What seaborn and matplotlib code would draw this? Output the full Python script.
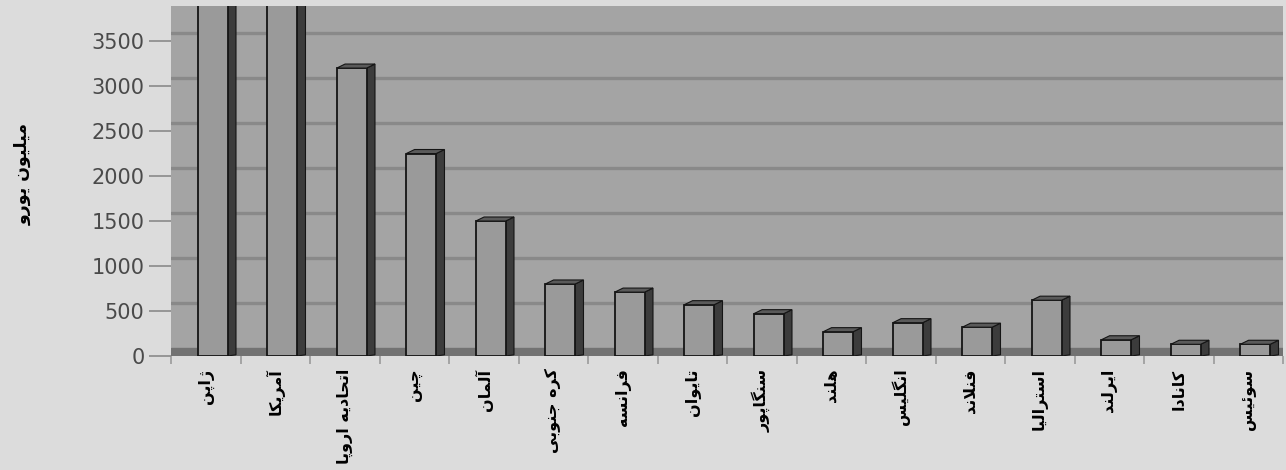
import matplotlib
matplotlib.use("Agg")
import matplotlib.pyplot as plt
from matplotlib.patches import Polygon
import seaborn as sns
import pandas as pd

# ---------------- data ----------------
countries = ["ژاپن", "آمریکا", "اتحادیه اروپا", "چین", "آلمان", "کره جنوبی",
             "فرانسه", "تایوان", "سنگاپور", "هلند", "انگلیس", "فنلاند",
             "استرالیا", "ایرلند", "کانادا", "سوئیس"]
values = [4800, 4500, 3200, 2250, 1500, 800, 710, 570, 470, 270, 370, 320,
          620, 180, 130, 130]
y_ticks = [0, 500, 1000, 1500, 2000, 2500, 3000, 3500]
y_label = "میلیون یورو"

# ------------- minimal Arabic/Persian shaping -------------
DUAL = {
    "ب": "\uFE8F\uFE90\uFE91\uFE92", "ت": "\uFE95\uFE96\uFE97\uFE98",
    "ج": "\uFE9D\uFE9E\uFE9F\uFEA0", "ح": "\uFEA1\uFEA2\uFEA3\uFEA4",
    "س": "\uFEB1\uFEB2\uFEB3\uFEB4", "ف": "\uFED1\uFED2\uFED3\uFED4",
    "ل": "\uFEDD\uFEDE\uFEDF\uFEE0", "م": "\uFEE1\uFEE2\uFEE3\uFEE4",
    "ن": "\uFEE5\uFEE6\uFEE7\uFEE8", "ه": "\uFEE9\uFEEA\uFEEB\uFEEC",
    "ئ": "\uFE89\uFE8A\uFE8B\uFE8C", "پ": "\uFB56\uFB57\uFB58\uFB59",
    "چ": "\uFB7A\uFB7B\uFB7C\uFB7D", "ک": "\uFB8E\uFB8F\uFB90\uFB91",
    "گ": "\uFB92\uFB93\uFB94\uFB95", "ی": "\uFBFC\uFBFD\uFBFE\uFBFF",
}
RIGHT = {
    "ا": "\uFE8D\uFE8E", "آ": "\uFE81\uFE82", "د": "\uFEA9\uFEAA",
    "ر": "\uFEAD\uFEAE", "ز": "\uFEAF\uFEB0", "و": "\uFEED\uFEEE",
    "ژ": "\uFB8A\uFB8B",
}
LAMALEF = {"ا": "\uFEFB\uFEFC", "آ": "\uFEF5\uFEF6"}


def shape(text):
    out = []
    n = len(text)
    i = 0
    while i < n:
        c = text[i]
        prev_d = i > 0 and text[i - 1] in DUAL
        if c == "ل" and i + 1 < n and text[i + 1] in LAMALEF:
            out.append(LAMALEF[text[i + 1]][1 if prev_d else 0])
            i += 2
            continue
        if c in DUAL:
            nxt = i + 1 < n and (text[i + 1] in DUAL or text[i + 1] in RIGHT)
            f = DUAL[c]
            out.append(f[3] if (prev_d and nxt) else f[1] if prev_d else f[2] if nxt else f[0])
        elif c in RIGHT:
            out.append(RIGHT[c][1 if prev_d else 0])
        else:
            out.append(c)
        i += 1
    return "".join(out)[::-1]


# ---------------- plot ----------------
sns.set_theme(style="white")
plt.rcParams["font.family"] = ["DejaVu Sans", "Noto Sans"]

fig = plt.figure(figsize=(12.86, 4.70), dpi=100, facecolor="#dcdcdc")
ax = fig.add_axes([171 / 1286, 1 - 356 / 470, (1283 - 171) / 1286, (356 - 6) / 470])
ax.set_facecolor("#a4a4a4")

df = pd.DataFrame({"country": countries, "value": values})
sns.barplot(data=df, x="country", y="value", color="#9a9a9a", saturation=1,
            edgecolor="#151515", linewidth=1.3, width=0.43, ax=ax, zorder=3)
bars = list(ax.patches)

ax.set_ylim(0, 3890)
ax.set_xlim(-0.5, len(countries) - 0.5)

# back wall depth (in data units) for the pseudo-3D look
wall = 85
# floor band
ax.axhspan(0, wall, color="#727272", zorder=1)
# gridlines on the back wall
for t in y_ticks[1:]:
    ax.axhline(t + wall, color="#898989", lw=2.4, zorder=1)

# 3D effect: shift bars a bit and add side and top faces
dx, dy = 0.12, 45
for p in bars:
    p.set_x(p.get_x() + 0.1)
    x0, w, h = p.get_x(), p.get_width(), p.get_height()
    x1 = x0 + w
    side = Polygon([(x1, 0), (x1 + dx, dy * 0.3), (x1 + dx, h + dy), (x1, h)],
                   closed=True, facecolor="#3c3c3c", edgecolor="#151515",
                   lw=0.8, zorder=2.9)
    top = Polygon([(x0, h), (x0 + dx, h + dy), (x1 + dx, h + dy), (x1, h)],
                  closed=True, facecolor="#5a5a5a", edgecolor="#151515",
                  lw=0.8, zorder=3.1)
    ax.add_patch(side)
    ax.add_patch(top)

for s in ax.spines.values():
    s.set_visible(False)

ax.set_yticks(y_ticks)
ax.set_yticklabels([str(t) for t in y_ticks], fontsize=15, color="#4a4a4a")
ax.tick_params(axis="y", length=16, width=1.2, color="#8a8a8a", pad=3, left=True)

ax.set_xticks(range(len(countries)))
ax.set_xticklabels([shape(c) for c in countries], rotation=90, fontsize=11.5,
                   fontweight="bold", color="black", va="top")
ax.tick_params(axis="x", length=0, pad=9)
ax.set_xticks([i - 0.5 for i in range(len(countries) + 1)], minor=True)
ax.tick_params(axis="x", which="minor", length=6, width=1.2, color="#9a9a9a",
               bottom=True)

ax.set_xlabel("")
ax.set_ylabel(shape(y_label), fontsize=12.5, fontweight="bold", color="black")
ax.yaxis.set_label_coords(-0.125, 0.52)

fig.savefig("out.png", dpi=100, facecolor=fig.get_facecolor())
